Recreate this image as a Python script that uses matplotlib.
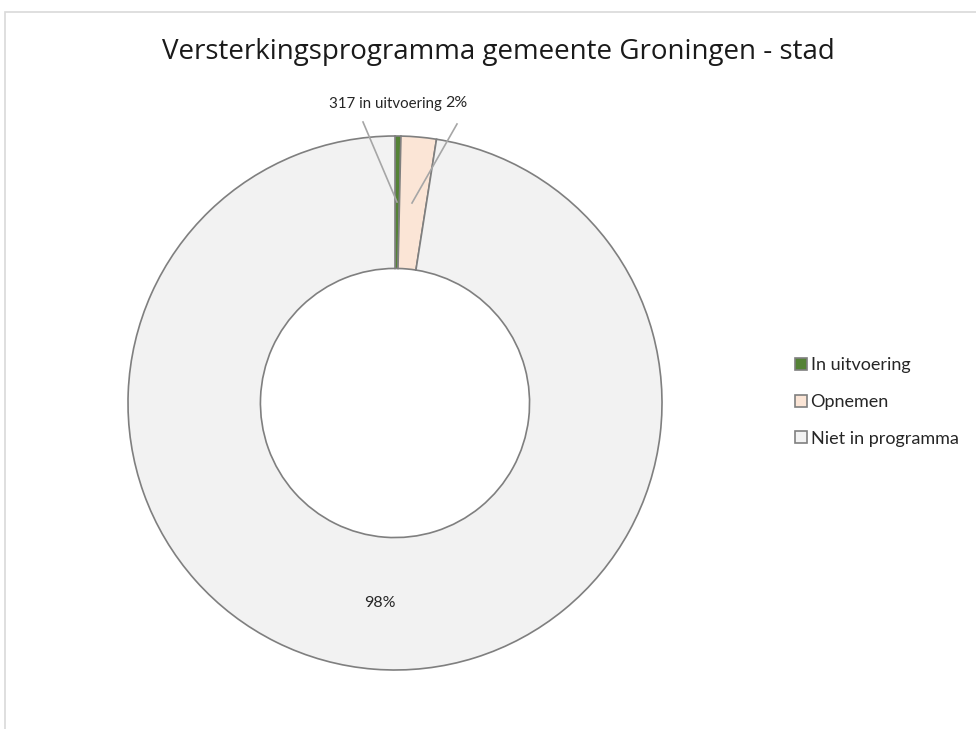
import matplotlib.pyplot as plt
from matplotlib.patches import Rectangle

categories = ["In uitvoering", "Opnemen", "Niet in programma"]
values = [317, 1900, 87000]
colors = ["#548235", "#fbe5d6", "#f2f2f2"]
title = "Versterkingsprogramma gemeente Groningen - stad"

plt.rcParams['font.family'] = ['Lato', 'DejaVu Sans']

W, H = 976, 729
fig = plt.figure(figsize=(W / 100, H / 100), dpi=100)
ax = fig.add_axes([0, 0, 1, 1])

# chart frame
ax.add_patch(Rectangle((5, -10), W, H - 12 + 10, fill=False, edgecolor="#d9d9d9", lw=1.2))

cx, cy, r = 395, H - 403, 267
wedges, _ = ax.pie(values, colors=colors, startangle=90, counterclock=False,
                   center=(cx, cy), radius=r, frame=True,
                   wedgeprops=dict(width=r * 0.496, edgecolor="#7f7f7f", linewidth=1.2))
ax.set_xlim(0, W)
ax.set_ylim(0, H)
ax.set_aspect('equal')
ax.axis('off')

total = sum(values)
pct = [v / total * 100 for v in values]

ax.text(W / 2 + 10, H - 52, title, ha='center', va='center', fontsize=20,
        color="#1a1a1a", family=['Open Sans', 'DejaVu Sans'])

lc = "#a6a6a6"
txt = "#262626"
# leader lines
ax.plot([363, 397], [H - 122, H - 202], color=lc, lw=1.2)
ax.plot([457, 412], [H - 124, H - 203], color=lc, lw=1.2)
ax.text(385, H - 104, f"{values[0]} in uitvoering", ha='center', va='center', fontsize=10.8, color=txt)
ax.text(456, H - 103, f"{pct[1]:.0f}%", ha='center', va='center', fontsize=11.5, color=txt)
ax.text(380, H - 603, f"{pct[2]:.0f}%", ha='center', va='center', fontsize=11.5, color=txt)

leg = ax.legend(wedges, categories, loc='center left', bbox_to_anchor=(788 / W, (H - 402) / H),
                frameon=False, fontsize=13, handlelength=0.65, handleheight=0.65,
                handletextpad=0.2, labelspacing=1.15, borderaxespad=0)
for t in leg.get_texts():
    t.set_color(txt)

fig.savefig("out.png", dpi=100)
